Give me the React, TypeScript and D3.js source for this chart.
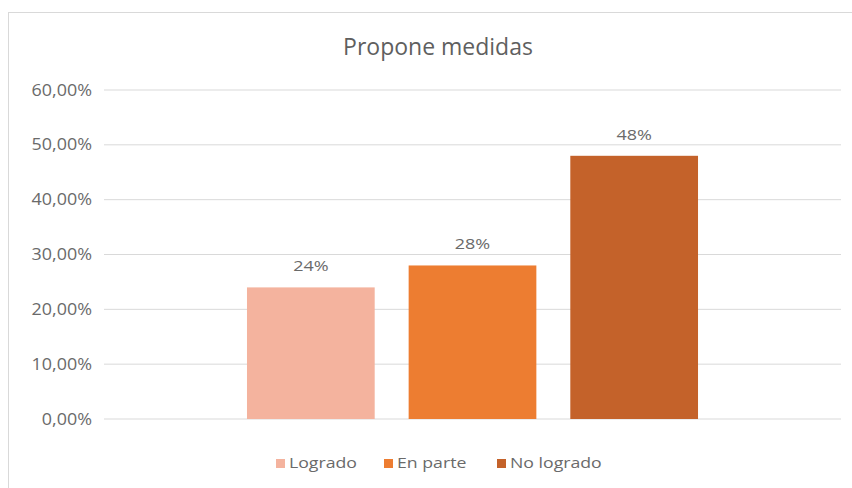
import React from "react";
import * as d3 from "d3";

const title = "Propone medidas";
const categories = ["Propone medidas"];
const seriesNames = ["Logrado", "En parte", "No logrado"];
const seriesValues = [0.24, 0.28, 0.48];
const valueLabels = ["24%", "28%", "48%"];
const seriesColors = ["#F4B39E", "#ED7D31", "#C4622A"];
const yTicks = [0, 0.1, 0.2, 0.3, 0.4, 0.5, 0.6];

const W = 852;
const H = 488;
const plot = { left: 104, right: 841, top: 90, bottom: 419 };
const FONT = "'Open Sans', 'DejaVu Sans', sans-serif";
const TEXT = "#6a6a6a";

export default function App() {
  const y = d3.scaleLinear().domain([0, 0.6]).range([plot.bottom, plot.top]);
  const x0 = d3
    .scaleBand<string>()
    .domain(categories)
    .range([plot.left, plot.right])
    .paddingInner(0)
    .paddingOuter(0.317);
  const x1 = d3
    .scaleBand<string>()
    .domain(seriesNames)
    .range([0, x0.bandwidth()])
    .paddingInner(0.21)
    .paddingOuter(0);
  const fmt = (v: number) => (v * 100).toFixed(2).replace(".", ",") + "%";

  const legendItems = seriesNames.map((n, i) => ({ n, c: seriesColors[i] }));
  const legendX = [276, 384, 497];

  return (
    <svg
      width={W}
      height={H}
      style={{ position: "absolute", left: 0, top: 0, background: "#fff" }}
      fontFamily={FONT}
    >
      <rect x={8.5} y={12.5} width={900} height={600} fill="#fff" stroke="#d9d9d9" />
      <text x={438} y={55} textAnchor="middle" fontSize={23} fill="#5f5f5f">
        {title}
      </text>
      {yTicks.map((t) => (
        <g key={t}>
          <line
            x1={plot.left}
            x2={plot.right}
            y1={y(t)}
            y2={y(t)}
            stroke="#d9d9d9"
            strokeWidth={1}
          />
          <text
            transform={`translate(92,${y(t)}) scale(1.12,1)`}
            dy="0.35em"
            textAnchor="end"
            fontSize={16}
            fill={TEXT}
          >
            {fmt(t)}
          </text>
        </g>
      ))}
      {categories.map((c) => (
        <g key={c} transform={`translate(${x0(c)},0)`}>
          {seriesNames.map((s, i) => (
            <g key={s}>
              <rect
                x={x1(s)}
                y={y(seriesValues[i])}
                width={x1.bandwidth()}
                height={y(0) - y(seriesValues[i])}
                fill={seriesColors[i]}
              />
              <text
                transform={`translate(${(x1(s) as number) + x1.bandwidth() / 2},${
                  y(seriesValues[i]) - 16
                }) scale(1.2,1)`}
                textAnchor="middle"
                fontSize={15}
                fill={TEXT}
              >
                {valueLabels[i]}
              </text>
            </g>
          ))}
        </g>
      ))}
      {legendItems.map((l, i) => (
        <g key={l.n} transform={`translate(${legendX[i]},463)`}>
          <rect x={0} y={-4} width={9} height={9} fill={l.c} />
          <text
            transform="translate(13,0) scale(1.18,1)"
            dy="0.35em"
            fontSize={15}
            fill={TEXT}
          >
            {l.n}
          </text>
        </g>
      ))}
    </svg>
  );
}
